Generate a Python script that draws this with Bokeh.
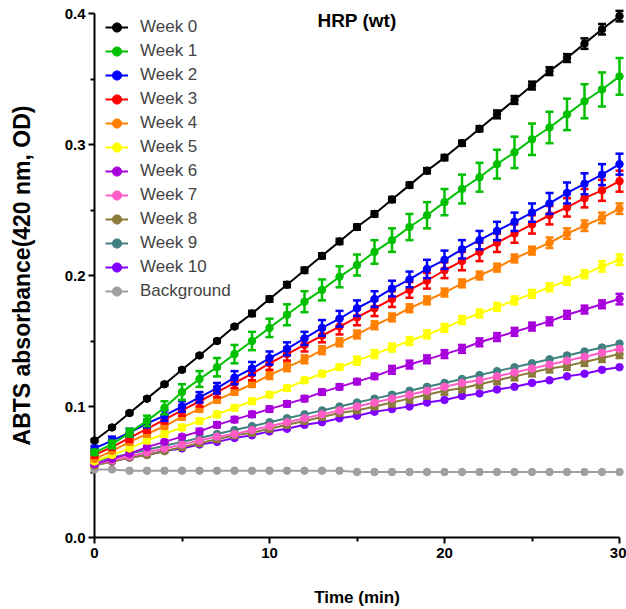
from bokeh.plotting import figure
from bokeh.models import Range1d, Legend, LegendItem, Label, FixedTicker, PrintfTickFormatter, ColumnDataSource
from bokeh.embed import file_html
from bokeh.resources import INLINE

time_min = list(range(31))

series_names = ["Week 0", "Week 1", "Week 2", "Week 3", "Week 4", "Week 5",
                "Week 6", "Week 7", "Week 8", "Week 9", "Week 10", "Background"]
series_colors = ["#000000", "#00C000", "#0000FF", "#FF0000", "#FF8000", "#FFFF00",
                 "#A800DC", "#FF5CC8", "#8B7B3B", "#408080", "#8000FF", "#A0A0A0"]

week0 = [0.074,0.084,0.095,0.106,0.117,0.128,0.139,0.150,0.161,0.171,0.182,0.193,0.204,0.215,0.226,0.237,
         0.247,0.258,0.269,0.280,0.290,0.301,0.312,0.323,0.334,0.345,0.356,0.366,0.377,0.388,0.398]
week1 = [0.065,0.071,0.080,0.089,0.099,0.111,0.121,0.130,0.140,0.150,0.160,0.170,0.180,0.189,0.199,0.208,
         0.218,0.227,0.237,0.246,0.256,0.266,0.275,0.285,0.294,0.304,0.313,0.323,0.333,0.342,0.352]
week2 = [0.068,0.074,0.080,0.087,0.093,0.100,0.107,0.114,0.122,0.129,0.137,0.144,0.152,0.160,0.167,0.175,
         0.182,0.190,0.197,0.205,0.212,0.220,0.227,0.234,0.241,0.248,0.255,0.263,0.270,0.277,0.285]
week3 = [0.063,0.069,0.076,0.083,0.090,0.097,0.104,0.111,0.118,0.125,0.133,0.140,0.147,0.154,0.161,0.168,
         0.175,0.182,0.189,0.196,0.204,0.211,0.218,0.225,0.232,0.239,0.246,0.252,0.259,0.265,0.272]
week4 = [0.060,0.066,0.073,0.079,0.085,0.092,0.098,0.105,0.111,0.117,0.124,0.130,0.136,0.143,0.149,0.155,
         0.162,0.168,0.175,0.181,0.187,0.194,0.200,0.206,0.213,0.219,0.225,0.232,0.238,0.244,0.251]
week5 = [0.058,0.063,0.068,0.074,0.079,0.084,0.089,0.094,0.099,0.104,0.109,0.114,0.120,0.125,0.130,0.135,
         0.140,0.145,0.150,0.155,0.160,0.166,0.171,0.176,0.181,0.186,0.191,0.196,0.201,0.207,0.212]
week6 = [0.056,0.060,0.064,0.069,0.073,0.077,0.081,0.086,0.090,0.094,0.098,0.102,0.106,0.111,0.115,0.119,
         0.123,0.128,0.132,0.136,0.140,0.144,0.149,0.153,0.157,0.161,0.165,0.170,0.174,0.178,0.182]
week7 = [0.056,0.059,0.062,0.065,0.068,0.071,0.074,0.077,0.079,0.082,0.085,0.088,0.091,0.094,0.097,0.100,
         0.103,0.106,0.109,0.112,0.115,0.118,0.120,0.123,0.126,0.129,0.132,0.135,0.138,0.141,0.144]
week8 = [0.055,0.058,0.061,0.063,0.066,0.069,0.072,0.075,0.078,0.080,0.083,0.086,0.089,0.092,0.095,0.097,
         0.100,0.103,0.106,0.109,0.112,0.114,0.117,0.120,0.123,0.126,0.129,0.131,0.134,0.137,0.140]
week9 = [0.058,0.061,0.064,0.067,0.070,0.073,0.076,0.079,0.082,0.085,0.088,0.091,0.094,0.097,0.100,0.103,
         0.106,0.109,0.112,0.115,0.118,0.121,0.124,0.127,0.130,0.133,0.136,0.139,0.142,0.145,0.148]
week10 = [0.056,0.058,0.061,0.063,0.066,0.068,0.071,0.073,0.076,0.078,0.081,0.083,0.086,0.088,0.091,0.093,
          0.096,0.098,0.100,0.103,0.105,0.108,0.110,0.113,0.115,0.118,0.120,0.123,0.125,0.128,0.130]
background = [0.052,0.052,0.051,0.051,0.051,0.051,0.051,0.051,0.051,0.051,0.051,0.051,0.051,0.051,0.051,0.050,
              0.050,0.050,0.050,0.050,0.050,0.050,0.050,0.050,0.050,0.050,0.050,0.050,0.050,0.050,0.050]

err0 = [0.001,0.001,0.001,0.001,0.001,0.001,0.001,0.001,0.001,0.002,0.002,0.002,0.002,0.002,0.002,0.002,
        0.002,0.002,0.002,0.002,0.002,0.002,0.002,0.003,0.003,0.003,0.003,0.003,0.004,0.004,0.004]
err1 = [0.002,0.003,0.003,0.004,0.005,0.006,0.006,0.007,0.007,0.007,0.007,0.008,0.008,0.008,0.008,0.008,
        0.009,0.009,0.010,0.010,0.010,0.011,0.011,0.011,0.012,0.012,0.012,0.012,0.013,0.013,0.014]
err2 = [0.002,0.003,0.003,0.003,0.004,0.004,0.004,0.004,0.005,0.005,0.005,0.005,0.005,0.006,0.006,0.006,
        0.006,0.006,0.006,0.007,0.007,0.007,0.007,0.007,0.007,0.007,0.008,0.008,0.008,0.008,0.008]
err3 = [0.002,0.002,0.003,0.003,0.003,0.004,0.004,0.004,0.004,0.005,0.005,0.005,0.005,0.005,0.006,0.006,
        0.006,0.006,0.006,0.006,0.006,0.007,0.007,0.007,0.007,0.007,0.007,0.007,0.007,0.008,0.008]
err4 = [0.001,0.001,0.002,0.002,0.002,0.002,0.002,0.002,0.002,0.002,0.003,0.003,0.003,0.003,0.003,0.003,
        0.003,0.003,0.003,0.003,0.003,0.003,0.003,0.003,0.003,0.003,0.004,0.004,0.004,0.004,0.004]
err5 = [0.001,0.001,0.001,0.002,0.002,0.002,0.002,0.002,0.002,0.002,0.002,0.002,0.002,0.002,0.002,0.003,
        0.003,0.003,0.003,0.003,0.003,0.003,0.003,0.003,0.003,0.003,0.003,0.003,0.003,0.004,0.004]
err6 = [0.001,0.001,0.001,0.001,0.001,0.001,0.002,0.002,0.002,0.002,0.002,0.002,0.002,0.002,0.002,0.002,
        0.002,0.003,0.003,0.003,0.003,0.003,0.003,0.003,0.003,0.003,0.003,0.003,0.003,0.003,0.004]
err7 = [0.0] * 31
err8 = [0.001,0.001,0.001,0.001,0.001,0.002,0.002,0.002,0.002,0.002,0.002,0.002,0.002,0.002,0.002,0.002,
        0.002,0.003,0.003,0.003,0.003,0.003,0.003,0.003,0.003,0.003,0.003,0.003,0.003,0.003,0.003]
err9 = [0.0] * 31
err10 = [0.0] * 31
err_bg = [0.0] * 31

series_values = [week0, week1, week2, week3, week4, week5, week6, week7, week8, week9, week10, background]
series_errors = [err0, err1, err2, err3, err4, err5, err6, err7, err8, err9, err10, err_bg]

FONT = "Liberation Sans"

p = figure(width=626, height=609, output_backend="svg", toolbar_location=None,
           x_range=Range1d(0, 30), y_range=Range1d(0, 0.4),
           min_border_left=94, min_border_right=7, min_border_top=13, min_border_bottom=72)
p.outline_line_color = None
p.grid.visible = False
p.background_fill_color = "white"
p.border_fill_color = "white"

p.xaxis.ticker = FixedTicker(ticks=[0, 10, 20, 30], minor_ticks=[5, 15, 25])
p.yaxis.ticker = FixedTicker(ticks=[0, 0.1, 0.2, 0.3, 0.4], minor_ticks=[0.05, 0.15, 0.25, 0.35])
p.yaxis.formatter = PrintfTickFormatter(format="%.1f")

for ax in (p.xaxis[0], p.yaxis[0]):
    ax.axis_line_width = 2
    ax.major_tick_line_width = 2
    ax.minor_tick_line_width = 2
    ax.major_tick_in = 0
    ax.major_tick_out = 6
    ax.minor_tick_in = 0
    ax.minor_tick_out = 4
    ax.major_label_text_font = FONT
    ax.major_label_text_font_style = "bold"
    ax.major_label_text_font_size = "15px"
    ax.major_label_text_color = "black"
    ax.axis_label_text_font = FONT
    ax.axis_label_text_font_style = "bold"
    ax.axis_label_text_color = "black"

p.xaxis.axis_label = "Time (min)"
p.xaxis.axis_label_text_font_size = "17px"
p.xaxis.major_label_standoff = 4
p.xaxis.axis_label_standoff = 27
p.yaxis.axis_label = "ABTS absorbance(420 nm, OD)"
p.yaxis.axis_label_text_font_size = "23px"
p.yaxis.major_label_standoff = 3
p.yaxis.axis_label_standoff = 27

legend_items = {}
for name, color, vals, errs in reversed(list(zip(series_names, series_colors, series_values, series_errors))):
    src = ColumnDataSource(dict(x=time_min, y=vals))
    ln = p.line("x", "y", source=src, line_color=color, line_width=2, level="overlay")
    ex = [t for t, e in zip(time_min, errs) if e > 0]
    elo = [v - e for v, e in zip(vals, errs) if e > 0]
    ehi = [v + e for v, e in zip(vals, errs) if e > 0]
    if ex:
        esrc = ColumnDataSource(dict(x=ex, lo=elo, hi=ehi))
        p.segment(x0="x", y0="lo", x1="x", y1="hi", source=esrc, line_color=color, line_width=2.5, level="overlay")
        p.scatter(x="x", y="hi", source=esrc, marker="dash", size=8, line_color=color, line_width=2.5, level="overlay")
        p.scatter(x="x", y="lo", source=esrc, marker="dash", size=8, line_color=color, line_width=2.5, level="overlay")
    mk = p.scatter("x", "y", source=src, marker="circle", size=7.5, fill_color=color, line_color=color, level="overlay")
    legend_items[name] = LegendItem(label=name, renderers=[ln, mk])

legend = Legend(items=[legend_items[n] for n in series_names], location=(11, 234),
                padding=0, spacing=0, margin=0, label_height=24, glyph_height=24, glyph_width=23,
                label_standoff=12, label_text_font=FONT, label_text_font_size="17px",
                border_line_alpha=0, background_fill_alpha=0)
p.add_layout(legend, "center")

title = Label(x=15, y=0.4, text="HRP (wt)", text_align="center", text_baseline="middle",
              y_offset=-7, text_font=FONT, text_font_style="bold", text_font_size="19px", text_color="black")
p.add_layout(title)

open("out.html", "w").write(file_html(p, INLINE))
